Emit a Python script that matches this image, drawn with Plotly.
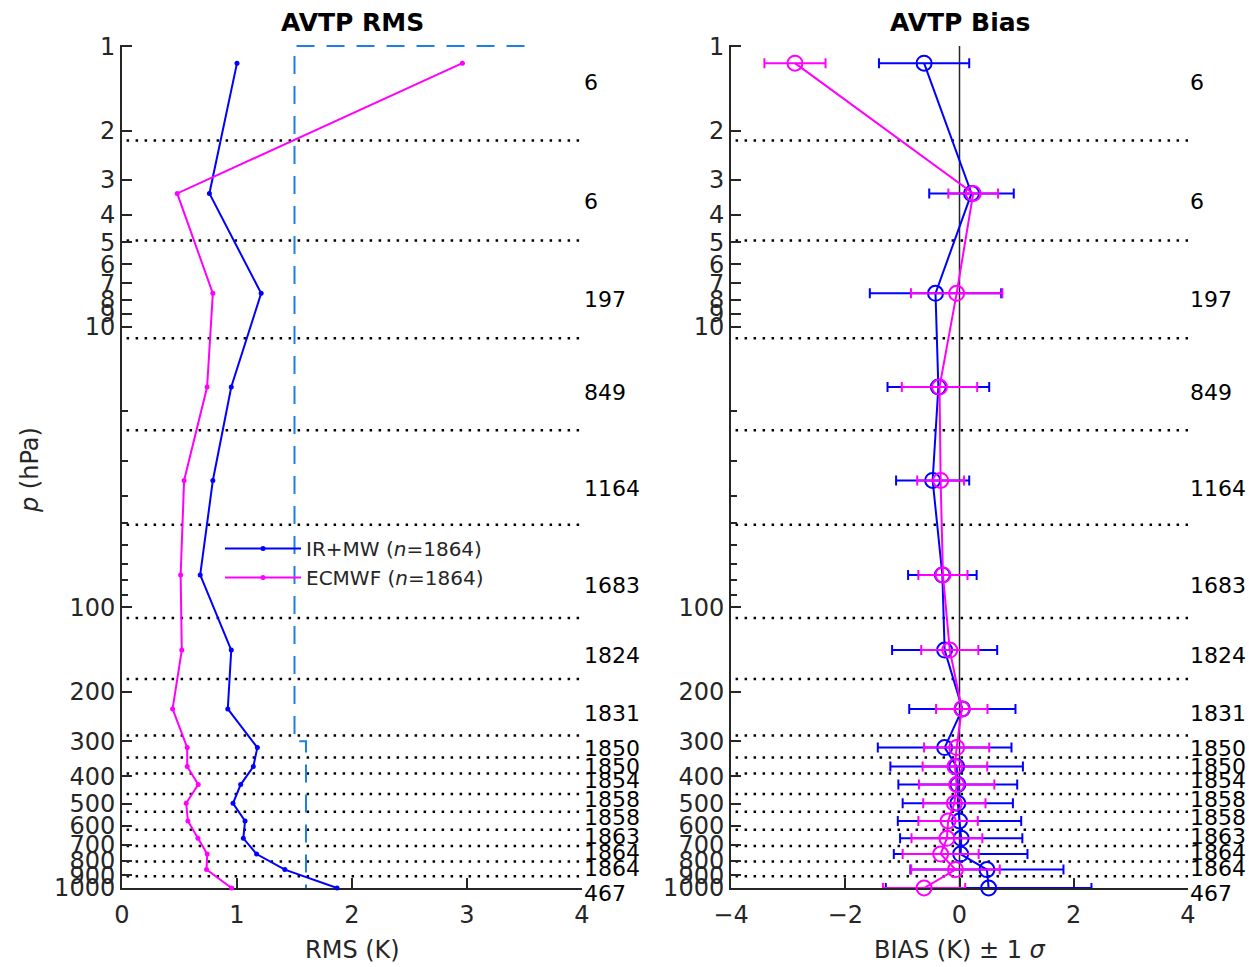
import math
import plotly.graph_objects as go

# Pressure levels (hPa) of the retrieval layers
levels = [1.15, 3.35, 7.6, 16.4, 35.3, 76.6, 142, 230, 316, 369, 428, 499, 577, 665, 757, 860, 1000]
# Layer boundaries drawn as dotted lines (hPa)
boundaries = [2.17, 4.93, 11.0, 23.4, 50.8, 109, 180, 286, 343, 391, 462, 535, 620, 708, 804, 908]
# Number of matched profiles per layer and the pressure where each count is printed
counts = ["6", "6", "197", "849", "1164", "1683", "1824", "1831", "1850", "1850",
          "1854", "1858", "1858", "1863", "1864", "1864", "467"]
count_p = [1.35, 3.58, 8.0, 17.2, 37.7, 83.5, 148, 238, 318, 368, 413, 482, 559, 653, 750, 849, 1000]

# RMS (K)
rms_irmw = [1.00, 0.76, 1.21, 0.95, 0.79, 0.68, 0.95, 0.92, 1.177, 1.142, 1.032, 0.965,
            1.07, 1.055, 1.17, 1.416, 1.87]
rms_ecmwf = [2.96, 0.48, 0.79, 0.74, 0.54, 0.51, 0.52, 0.44, 0.567, 0.567, 0.663, 0.558,
             0.573, 0.66, 0.741, 0.735, 0.953]

# Requirement curve (K)
req_x = [3.5, 1.5, 1.5, 1.6, 1.6]
req_p = [1, 1, 300, 300, 1000]

# Bias (K) and standard deviation (K)
bias_irmw = [-0.62, 0.21, -0.42, -0.37, -0.47, -0.30, -0.26, 0.05, -0.26, -0.05, -0.03,
             -0.03, 0.0, 0.03, 0.02, 0.48, 0.51]
sd_irmw = [0.79, 0.74, 1.15, 0.89, 0.64, 0.60, 0.92, 0.93, 1.17, 1.16, 1.04, 0.965, 1.08,
           1.07, 1.17, 1.34, 1.80]
bias_ecmwf = [-2.88, 0.24, -0.05, -0.35, -0.33, -0.29, -0.17, 0.04, -0.05, -0.08, -0.05,
              -0.09, -0.20, -0.22, -0.33, -0.07, -0.62]
sd_ecmwf = [0.535, 0.435, 0.80, 0.66, 0.41, 0.43, 0.50, 0.45, 0.57, 0.565, 0.66, 0.545,
            0.52, 0.62, 0.665, 0.775, 0.72]

major_p = [1, 2, 3, 4, 5, 6, 7, 8, 9, 10, 100, 200, 300, 400, 500, 600, 700, 800, 900, 1000]
minor_p = [20, 30, 40, 50, 60, 70, 80, 90]

BLUE = "#0000FF"
MAGENTA = "#FF00FF"
REQ = "#1A7FE6"
AX = "#262626"
FONT = "DejaVu Sans"

W, H = 1249, 967
left_dom = [122 / W, 582 / W]
right_dom = [731 / W, 1188 / W]
y_dom = [1 - 888 / H, 1 - 45 / H]

fig = go.Figure()

# RMS panel
fig.add_trace(go.Scatter(x=req_x, y=req_p, mode="lines", showlegend=False,
                         line=dict(color=REQ, width=2, dash="18px,12px"),
                         xaxis="x", yaxis="y", hoverinfo="skip"))
fig.add_trace(go.Scatter(x=rms_irmw, y=levels, mode="lines+markers",
                         name="IR+MW (<i>n</i>=1864)", cliponaxis=False,
                         line=dict(color=BLUE, width=2), marker=dict(color=BLUE, size=5),
                         xaxis="x", yaxis="y"))
fig.add_trace(go.Scatter(x=rms_ecmwf, y=levels, mode="lines+markers",
                         name="ECMWF (<i>n</i>=1864)", cliponaxis=False,
                         line=dict(color=MAGENTA, width=2), marker=dict(color=MAGENTA, size=5),
                         xaxis="x", yaxis="y"))

# Bias panel
for b, s, c in [(bias_irmw, sd_irmw, BLUE), (bias_ecmwf, sd_ecmwf, MAGENTA)]:
    fig.add_trace(go.Scatter(
        x=b, y=levels, mode="lines+markers", showlegend=False, cliponaxis=False,
        line=dict(color=c, width=2),
        marker=dict(symbol="circle-open", size=15, color=c, line=dict(width=2, color=c)),
        error_x=dict(type="data", array=s, color=c, thickness=2, width=5),
        xaxis="x2", yaxis="y2"))

shapes = []
for xr, yr in [("x", "y"), ("x2", "y2")]:
    for p in boundaries:
        shapes.append(dict(type="line", xref=f"{xr} domain", yref=yr, x0=0.01, x1=1.0,
                           y0=p, y1=p, layer="below",
                           line=dict(color="black", width=2.5, dash="2.5px,6.5px")))
shapes.append(dict(type="line", xref="x2", yref="y2", x0=0, x1=0, y0=1, y1=1000,
                   line=dict(color=AX, width=1.5), layer="below"))

annotations = []
for xr, yr in [("x", "y"), ("x2", "y2")]:
    for p, t in zip(count_p, counts):
        # annotation positions on a log axis are given in log10 units
        annotations.append(dict(text=t, xref=f"{xr} domain", yref=yr, x=1.0, y=math.log10(p),
                                xanchor="left", yanchor="middle",
                                yshift=-5 if p >= 1000 else 0,
                                showarrow=False, font=dict(family=FONT, size=22, color="black")))

annotations += [
    dict(text="<b>AVTP RMS</b>", xref="paper", yref="paper", x=sum(left_dom) / 2,
         y=1 - 22 / H, xanchor="center", yanchor="middle", showarrow=False,
         font=dict(family=FONT, size=25, color="black")),
    dict(text="<b>AVTP Bias</b>", xref="paper", yref="paper", x=sum(right_dom) / 2,
         y=1 - 22 / H, xanchor="center", yanchor="middle", showarrow=False,
         font=dict(family=FONT, size=25, color="black")),
    dict(text="RMS (K)", xref="paper", yref="paper", x=sum(left_dom) / 2,
         y=1 - 950 / H, xanchor="center", yanchor="middle", showarrow=False,
         font=dict(family=FONT, size=24, color=AX)),
    dict(text="BIAS (K) ± 1 <i>σ</i>", xref="paper", yref="paper", x=sum(right_dom) / 2,
         y=1 - 950 / H, xanchor="center", yanchor="middle", showarrow=False,
         font=dict(family=FONT, size=24, color=AX)),
    dict(text="<i>p</i> (hPa)", xref="paper", yref="paper", x=30 / W, y=1 - 470 / H,
         xanchor="center", yanchor="middle", textangle=-90, showarrow=False,
         font=dict(family=FONT, size=24, color=AX)),
]

yaxis_common = dict(
    type="log", range=[3, -0.004], domain=y_dom, automargin=False,
    tickvals=major_p, ticktext=[str(v) for v in major_p],
    ticks="inside", ticklen=10, tickwidth=1.5, tickcolor=AX,
    showline=True, linecolor=AX, linewidth=2, showgrid=False, zeroline=False,
    minor=dict(tickvals=minor_p, ticks="inside", ticklen=6, tickcolor=AX, showgrid=False),
    tickfont=dict(family=FONT, size=24, color=AX), layer="below traces",
)
xaxis_common = dict(
    ticks="inside", ticklen=10, tickwidth=1.5, tickcolor=AX, automargin=False,
    showline=True, linecolor=AX, linewidth=2, showgrid=False, zeroline=False,
    tickfont=dict(family=FONT, size=24, color=AX), ticklabelstandoff=4,
    layer="below traces",
)

fig.update_layout(
    width=W, height=H, margin=dict(l=0, r=0, t=0, b=0, autoexpand=False),
    paper_bgcolor="white", plot_bgcolor="white",
    xaxis=dict(domain=left_dom, range=[0, 4], tickvals=[0, 1, 2, 3, 4], anchor="y",
               **xaxis_common),
    yaxis=dict(anchor="x", **yaxis_common),
    xaxis2=dict(domain=right_dom, range=[-4, 4], tickvals=[-4, -2, 0, 2, 4], anchor="y2",
                **xaxis_common),
    yaxis2=dict(anchor="x2", **yaxis_common),
    shapes=shapes, annotations=annotations,
    legend=dict(x=220 / W, y=1 - 529 / H, xanchor="left", yanchor="top",
                bgcolor="rgba(0,0,0,0)", itemwidth=76, tracegroupgap=0,
                font=dict(family=FONT, size=20, color=AX)),
    showlegend=True,
)

fig.write_html("out.html")
